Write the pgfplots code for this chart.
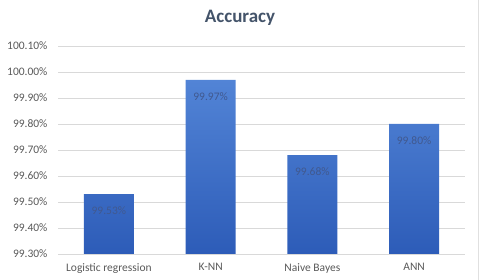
\documentclass[border=0pt]{standalone}
\usepackage{pgfplots}
\pgfplotsset{compat=1.18}
\usepackage{fontspec}
\setmainfont{Carlito}
\definecolor{bartop}{HTML}{5284D6}
\definecolor{barbot}{HTML}{2D5CB8}
\definecolor{ticktxt}{HTML}{595959}
\definecolor{gridc}{HTML}{D9D9D9}
\definecolor{lbl}{HTML}{41598F}
\definecolor{ttl}{HTML}{44546A}
\begin{document}
\begin{tikzpicture}[x=1pt,y=1pt]
\path[use as bounding box] (-58,-26) rectangle (423,254);
\draw[black!12] (420,-26) -- (420,254);
\begin{axis}[
  at={(0,0)}, anchor=south west,
  scale only axis, width=407pt, height=208pt,
  ybar, bar width=50pt,
  xmin=-0.5, xmax=3.5,
  ymin=99.3, ymax=100.1,
  xtick=data,
  xticklabels={Logistic regression,K-NN,Naive Bayes,ANN},
  ytick={99.3,99.4,99.5,99.6,99.7,99.8,99.9,100.0,100.1},
  yticklabel={\pgfmathprintnumber[fixed,fixed zerofill,precision=2]{\tick}\%},
  /pgf/number format/assume math mode=true,
  ymajorgrids=true, xmajorgrids=false,
  major grid style={draw=gridc, line width=0.8pt},
  axis x line*=bottom, axis y line*=left,
  x axis line style={draw=gridc, line width=0.8pt},
  y axis line style={draw=none},
  major tick length=0pt,
  tick label style={font=\fontsize{11.5}{12}\selectfont, text=ticktxt},
  xticklabel style={yshift=-6pt},
  yticklabel style={xshift=-7pt},
  tick style={draw=none},
  nodes near coords={\pgfmathprintnumber[fixed,fixed zerofill,precision=2]{\pgfplotspointmeta}\%},
  nodes near coords style={font=\fontsize{11.5}{12}\selectfont, text=lbl, anchor=north, yshift=-9pt, /pgf/number format/assume math mode=true},
  point meta=explicit,
  clip=false,
]
\addplot[draw=none, top color=bartop, bottom color=barbot] coordinates {
  (0,99.53) [99.53]
  (1,99.97) [99.97]
  (2,99.68) [99.68]
  (3,99.80) [99.80]
};
\end{axis}
\node[font=\bfseries\fontsize{19}{20}\selectfont, text=ttl] at (182,236) {Accuracy};
\end{tikzpicture}
\end{document}
